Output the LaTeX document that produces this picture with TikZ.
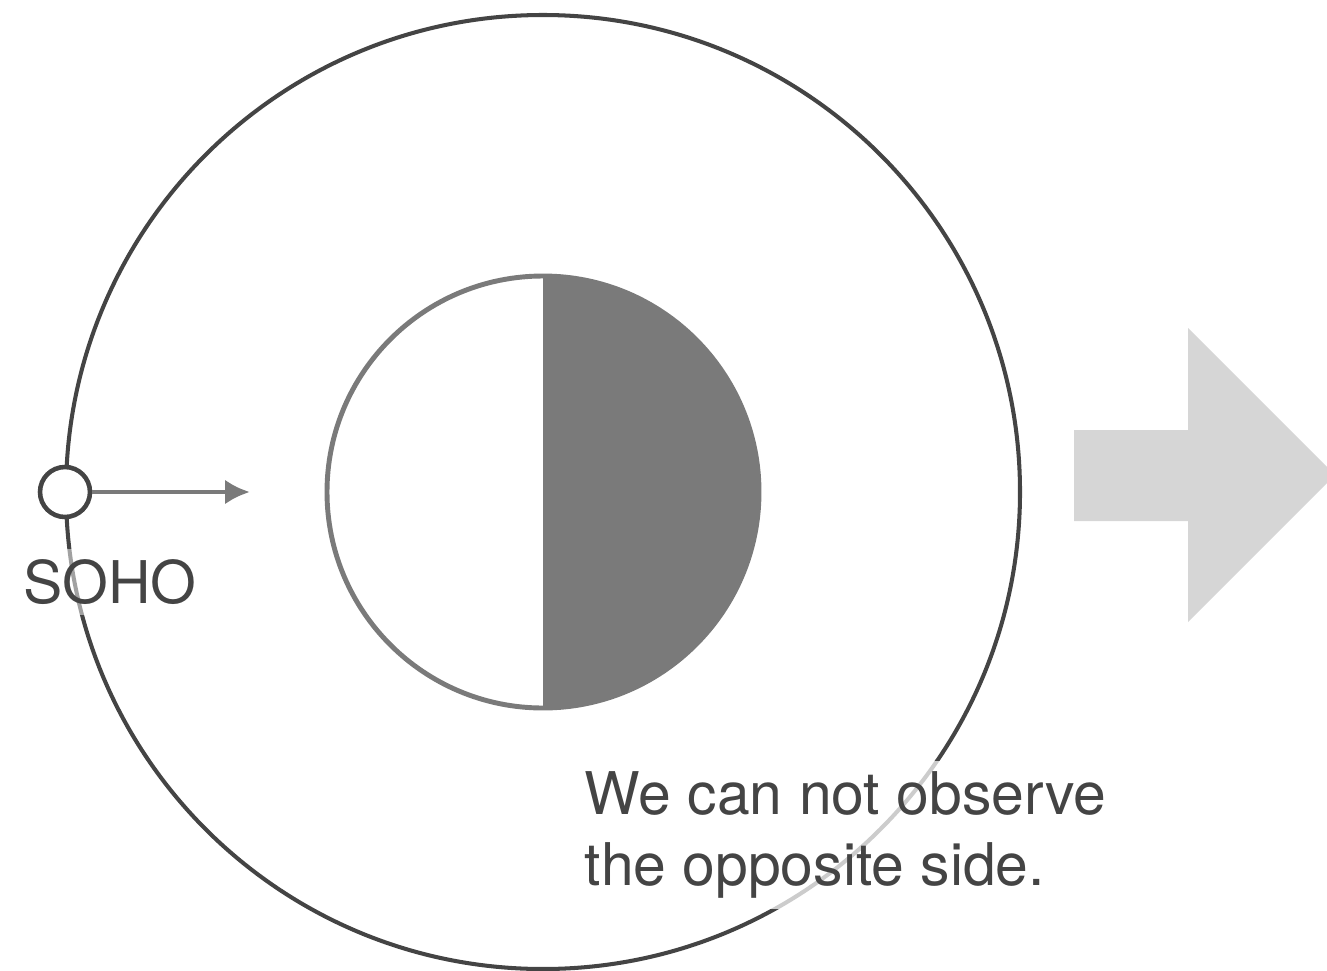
\documentclass[tikz,border=0pt]{standalone}
\usepackage{fontspec}
\setmainfont{TeX Gyre Heros}
\usetikzlibrary{arrows.meta,positioning}
\definecolor{Ink}{HTML}{444444}
\definecolor{Shade}{HTML}{7A7A7A}
\definecolor{Pale}{HTML}{D6D6D6}
\tikzset{
  caption/.style={text=Ink, font=\fontsize{33.5}{40}\selectfont, inner sep=6pt},
}

\begin{document}
\begin{tikzpicture}[x=0.02cm, y=-0.02cm, >=Latex]
    \useasboundingbox (0,0) rectangle (1327,970);
    % orbit and sun
    \draw[Ink, line width=2.3pt] (543,492) circle (477);
    \fill[Shade] (543,275) arc[start angle=-90, end angle=90, radius=217] -- cycle;
    \draw[Shade, line width=2.8pt] (543,492) circle (216);
    % SOHO
    \node[circle, draw=Ink, line width=2.6pt, fill=white, minimum size=1.0cm, inner sep=0pt] (soho) at (65,492) {};
    \coordinate (aim) at (250,492);
    \draw[-{Latex[length=0.5cm, width=0.5cm]}, Shade, line width=2.8pt] (soho) -- (aim);
    \node[caption, fill=white, fill opacity=0.5, text opacity=1] (sohotext) at (110,582) {SOHO};
    \node[caption, fill=white, fill opacity=0.73, text opacity=1, align=left, anchor=west] (note) at (574,835) {We can not observe\\the opposite side.};
    % big arrow
    \fill[Pale] (1074,430) -- (1188,430) -- (1188,328) -- (1335,475) -- (1188,622) -- (1188,521) -- (1074,521) -- cycle;
  \end{tikzpicture}
\end{document}
